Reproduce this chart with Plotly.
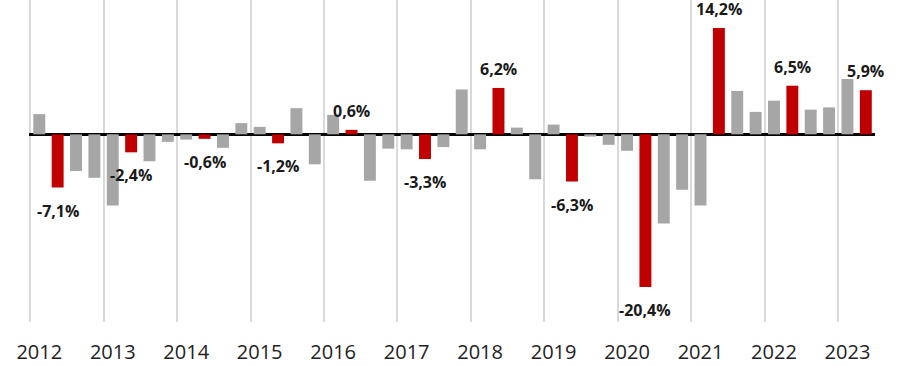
import plotly.graph_objects as go

years = list(range(2012, 2024))
quarters = [f"{y}Q{q}" for y in years for q in range(1, 5)][:46]
values = [
    2.7, -7.1, -4.9, -5.8,    # 2012
    -9.5, -2.4, -3.6, -1.0,   # 2013
    -0.7, -0.6, -1.8, 1.5,    # 2014
    1.0, -1.2, 3.5, -4.0,     # 2015
    2.6, 0.6, -6.2, -1.9,     # 2016
    -2.0, -3.3, -1.7, 6.0,    # 2017
    -2.0, 6.2, 0.9, -6.0,     # 2018
    1.3, -6.3, -0.3, -1.4,    # 2019
    -2.2, -20.4, -11.9, -7.4, # 2020
    -9.5, 14.2, 5.8, 3.0,     # 2021
    4.5, 6.5, 3.3, 3.6,       # 2022
    7.4, 5.9,                 # 2023
]
highlight = [q.endswith("Q2") for q in quarters]
year_labels = [str(y) for y in years]

RED = "#c00000"
GRAY = "#a6a6a6"

xs = list(range(len(values)))
colors = [RED if h else GRAY for h in highlight]

fig = go.Figure()
fig.add_trace(go.Bar(x=xs, y=values, marker=dict(color=colors, line=dict(width=0)),
                     hoverinfo="skip"))

for i, (v, h) in enumerate(zip(values, highlight)):
    if not h:
        continue
    txt = f"{v:.1f}".replace(".", ",") + "%"
    fig.add_annotation(x=i, y=v, text=txt, showarrow=False,
                       yshift=19 if v > 0 else -23,
                       font=dict(family="Open Sans", size=16, color="#1a1a1a", weight="bold"))

fig.update_layout(
    width=900, height=366,
    margin=dict(l=29, r=25, t=0, b=44),
    paper_bgcolor="white", plot_bgcolor="white",
    bargap=0.35, showlegend=False,
    xaxis=dict(
        range=[-0.56, len(values) - 0.5],
        tickmode="array",
        tickvals=[4 * k for k in range(len(years))],
        ticktext=year_labels,
        showgrid=False, zeroline=False, showline=False,
        ticks="", ticklabelstandoff=16,
        tickfont=dict(family="Open Sans", size=20, color="#222222"),
        minor=dict(tick0=-0.5, dtick=4, showgrid=True, gridcolor="#d9d9d9",
                   gridwidth=1.5, ticks=""),
    ),
    yaxis=dict(
        range=[-25.07, 17.95],
        showgrid=False, showticklabels=False, ticks="",
        zeroline=True, zerolinecolor="black", zerolinewidth=2.5,
    ),
)

fig.write_html("out.html")
